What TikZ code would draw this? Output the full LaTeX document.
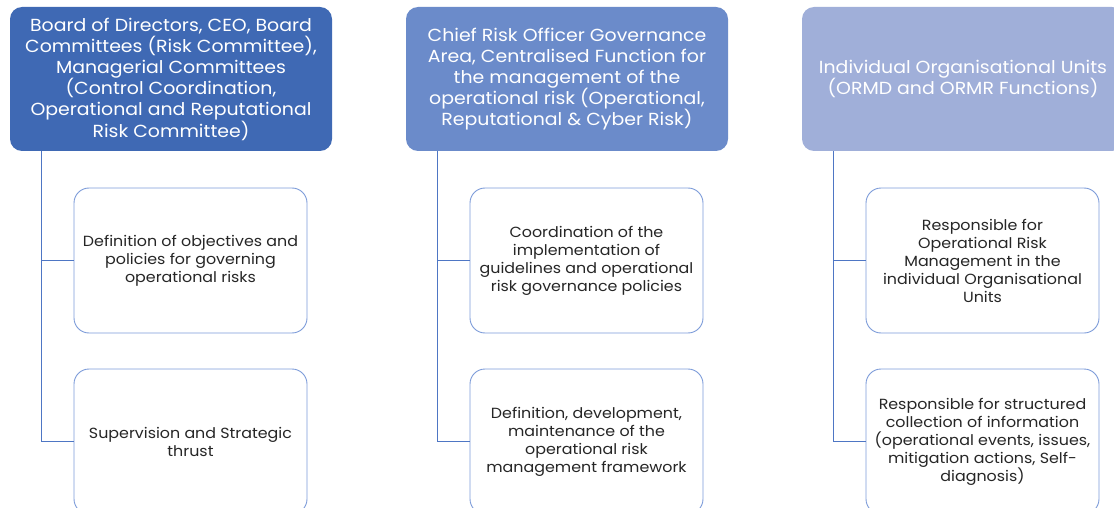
\documentclass[tikz,border=0pt]{standalone}
\usepackage{fontspec}
\setmainfont{Poppins}[FakeStretch=1.08]
\usetikzlibrary{positioning}
\definecolor{hA}{HTML}{3F69B4}
\definecolor{hB}{HTML}{6B8BCA}
\definecolor{hC}{HTML}{A0AFD9}
\definecolor{cbord}{HTML}{7C9BD9}
\definecolor{lineC}{HTML}{4E76C4}
\definecolor{txt}{HTML}{262626}
\tikzset{
  headbox/.style={rounded corners=12pt, minimum width=322pt, minimum height=144pt, text=white, align=center, inner sep=0pt, font=\fontsize{17.5}{21.2}\selectfont},
  childbox/.style={draw=cbord, line width=0.9pt, fill=white, rounded corners=15pt, minimum width=233pt, minimum height=145pt, text=txt, align=center, inner sep=0pt, font=\fontsize{14.7}{18}\selectfont},
  conn/.style={draw=lineC, line width=1pt}
}
\begin{document}
\begin{tikzpicture}[x=1pt,y=-1pt]
\useasboundingbox (0,0) rectangle (1114,508);
\clip (0,0) rectangle (1114,508);
\node[headbox, fill=hA] (h1) at (171,79) {Board of Directors, CEO, Board\\Committees (Risk Committee),\\Managerial Committees\\(Control Coordination,\\Operational and Reputational\\Risk Committee)};
\node[headbox, fill=hB] (h2) at (567,79) {Chief Risk Officer Governance\\Area, Centralised Function for\\the management  of the\\operational risk (Operational,\\Reputational \& Cyber Risk)};
\node[headbox, fill=hC] (h3) at (963,79) {Individual Organisational Units\\(ORMD and ORMR Functions)};
\node[childbox] (c11) at (190.5,260.5) {Definition of objectives and\\policies for governing\\operational risks};
\node[childbox] (c12) at (190.5,441.5) {Supervision and Strategic\\thrust};
\node[childbox] (c21) at (586.5,260.5) {Coordination of the\\implementation of\\guidelines and operational\\risk governance policies};
\node[childbox] (c22) at (586.5,441.5) {Definition, development,\\maintenance of the\\operational risk\\management framework};
\node[childbox] (c31) at (982.5,260.5) {Responsible for\\Operational Risk\\Management in the\\individual Organisational\\Units};
\node[childbox] (c32) at (982.5,441.5) {Responsible for structured\\collection of information\\(operational events, issues,\\mitigation actions, Self-\\diagnosis)};
\foreach \h/\a/\b in {h1/c11/c12, h2/c21/c22, h3/c31/c32}{
  \coordinate (\h t) at ([xshift=32pt]\h.south west);
  \draw[conn] (\h t) |- (\a.west);
  \draw[conn] (\h t) |- (\b.west);
}
\end{tikzpicture}
\end{document}
